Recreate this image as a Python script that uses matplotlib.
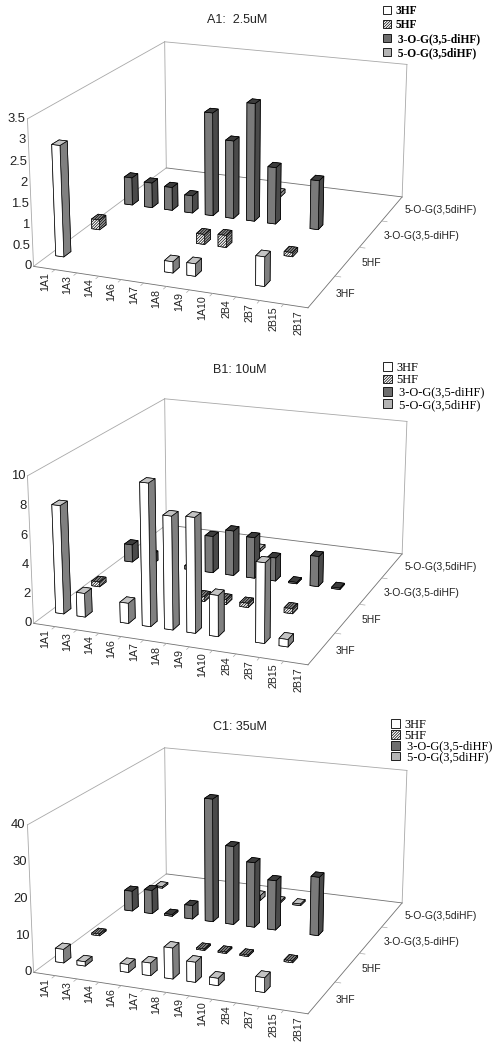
import numpy as np
import matplotlib
matplotlib.use('Agg')
import matplotlib.pyplot as plt
from matplotlib.patches import Patch
from mpl_toolkits.mplot3d import proj3d

plt.rcParams['font.family'] = ['Liberation Sans', 'DejaVu Sans']
plt.rcParams['hatch.linewidth'] = 0.5

W, H = 494, 1050

categories = ['1A1', '1A3', '1A4', '1A6', '1A7', '1A8', '1A9', '1A10', '2B4', '2B7', '2B15', '2B17']
series = ['3HF', '5HF', '3-O-G(3,5-diHF)', '5-O-G(3,5diHF)']

# A1: 2.5uM
a_3hf = [2.7, 0, 0, 0, 0, 0.27, 0.3, 0, 0, 0.7, 0, 0]
a_5hf = [0.25, 0, 0, 0, 0, 0.25, 0.3, 0, 0, 0.1, 0, 0]
a_3og = [0.72, 0.65, 0.6, 0.45, 2.65, 2.0, 3.0, 1.45, 0, 1.25, 0, 0]
a_5og = [0, 0, 0, 0, 0, 0, 0.1, 0, 0, 0, 0, 0]

# B1: 10uM
b_3hf = [7.5, 1.65, 0, 1.4, 9.7, 7.7, 7.8, 2.8, 0, 5.4, 0.5, 0]
b_5hf = [0.35, 0, 0, 0, 0, 0.35, 0.35, 0.3, 0, 0.35, 0, 0]
b_3og = [1.3, 0.7, 0, 0.25, 2.7, 3.3, 3.0, 1.7, 0.1, 2.2, 0.1, 0]
b_5og = [0, 0, 0, 0, 0, 0.2, 0, 0, 0, 0, 0, 0]

# C1: 35uM
c_3hf = [3.8, 1.2, 0, 2.2, 3.5, 8.5, 5.5, 2.0, 0, 4.0, 0, 0]
c_5hf = [0.5, 0, 0, 0, 0, 0.4, 0.4, 0.4, 0, 0.5, 0, 0]
c_3og = [6.0, 7.0, 0.5, 4.0, 36.0, 23.0, 19.0, 14.5, 0, 17.0, 0, 0]
c_5og = [0.5, 0, 0, 0, 0, 1.5, 0.5, 0.5, 0, 0, 0, 0]

panels = [
    ('A1:  2.5uM', 237, 20, 0, 3.5, [0, 0.5, 1, 1.5, 2, 2.5, 3, 3.5], ['0', '0.5', '1', '1.5', '2', '2.5', '3', '3.5'],
     [a_3hf, a_5hf, a_3og, a_5og], (383, 5), 8.3, 'bold', 0.17),
    ('B1: 10uM', 240, 370, 357, 10, [0, 2, 4, 6, 8, 10], ['0', '2', '4', '6', '8', '10'],
     [b_3hf, b_5hf, b_3og, b_5og], (383, 362), 8.9, 'normal', 0.03),
    ('C1: 35uM', 240, 727, 706, 40, [0, 10, 20, 30, 40], ['0', '10', '20', '30', '40'],
     [c_3hf, c_5hf, c_3og, c_5og], (391, 719), 8.9, 'normal', -0.1),
]

# faces: bottom, top, front, back, left, right
face_colors = [
    ['w', '#c4c4c4', 'w', 'w', 'w', '#808080'],
    ['w', '#909090', 'w', 'w', 'w', '#a0a0a0'],
    ['#555', '#3c3c3c', '#7a7a7a', '#555', '#555', '#4a4a4a'],
    ['#aaa', '#c0c0c0', '#b0b0b0', '#888', '#888', '#909090'],
]
dense_hatch = '/' * 12
hatches = [None, dense_hatch, None, None]
legend_faces = ['w', 'w', '#6e6e6e', '#b4b4b4']

S = 434.5
bar_dx = 0.38
bar_dy = 0.19
grey = '#a8a8a8'
dark = '#707070'


def label3d(ax, x, y, z, s, **kw):
    # mplot3d resets the rotation of its own texts, so place them in 2D
    px, py, _ = proj3d.proj_transform(x, y, z, ax.M)
    ax.text2D(px, py, s, transform=ax.transData, color='#222', **kw)


fig = plt.figure(figsize=(W / 100, H / 100), dpi=100)

for title, tx, ty, dy_px, zmax, zticks, zlabels, values, leg_xy, leg_fs, leg_w, leg_sp in panels:
    top = -50.6 + dy_px
    ax = fig.add_axes([5.64 / W, 1 - (top + S) / H, S / W, S / H], projection='3d')
    ax.set_xlim(0, 12)
    ax.set_ylim(0, 4)
    ax.set_zlim(0, zmax)
    ax.view_init(elev=18.051, azim=-68.897)
    ax.set_proj_type('persp', focal_length=0.6727)
    ax.set_box_aspect((1, 1.1632, 0.5327))
    ax.set_axis_off()
    ax.computed_zorder = False
    ax.patch.set_alpha(0)
    ax.M = ax.get_proj()

    # box edges
    for a, b, col in [((0, 0, 0), (0, 4, 0), grey), ((0, 4, 0), (12, 4, 0), dark), ((0, 0, 0), (12, 0, 0), dark),
                      ((12, 0, 0), (12, 4, 0), dark), ((0, 0, 0), (0, 0, zmax), grey), ((0, 4, 0), (0, 4, zmax), grey),
                      ((12, 4, 0), (12, 4, zmax), grey), ((0, 0, zmax), (0, 4, zmax), grey),
                      ((0, 4, zmax), (12, 4, zmax), grey)]:
        ax.plot([a[0], b[0]], [a[1], b[1]], [a[2], b[2]], color=col, lw=0.6, zorder=0, clip_on=False)

    # ticks
    for i in range(1, 12):
        ax.plot([i, i], [0, -0.08], [0, 0], color=grey, lw=0.5, zorder=0, clip_on=False)
    for j in range(1, 4):
        ax.plot([12, 12.25], [j, j], [0, 0], color=grey, lw=0.5, zorder=0, clip_on=False)

    # bars, back row first
    for row in range(3, -1, -1):
        for i, v in enumerate(values[row]):
            if v <= 0:
                continue
            ax.bar3d(i + 0.5 - bar_dx / 2, row + 0.5 - bar_dy / 2, 0, bar_dx, bar_dy, v,
                     color=face_colors[row], shade=False, edgecolor='k', linewidth=0.5,
                     hatch=hatches[row], zorder=10 * (4 - row) + i)

    # tick labels
    for i, lab in enumerate(categories):
        label3d(ax, i + 0.72, -0.1, 0, lab, rotation=90, ha='center', va='top', fontsize=7.7)
    for j, lab in enumerate(series):
        label3d(ax, 12.6, j + 0.5, 0, lab, ha='left', va='center', fontsize=7.5)
    for z, lab in zip(zticks, zlabels):
        label3d(ax, -0.1, 0, z, lab, ha='right', va='center', fontsize=9.4)

    fig.text(tx / W, 1 - ty / H, title, ha='center', va='center', fontsize=9, color='#222')

    handles = [Patch(facecolor=legend_faces[k], edgecolor='k', linewidth=0.6, hatch=hatches[k]) for k in range(4)]
    labels = [series[0], series[1], ' ' + series[2], ' ' + series[3]]
    fig.legend(handles, labels, loc='upper left', bbox_to_anchor=(leg_xy[0] / W, 1 - leg_xy[1] / H),
               frameon=False, borderpad=0, borderaxespad=0, handlelength=0.7, handleheight=0.7,
               handletextpad=0.35, labelspacing=leg_sp,
               prop={'family': 'Liberation Serif', 'size': leg_fs, 'weight': leg_w})

fig.savefig('out.png', dpi=100)
